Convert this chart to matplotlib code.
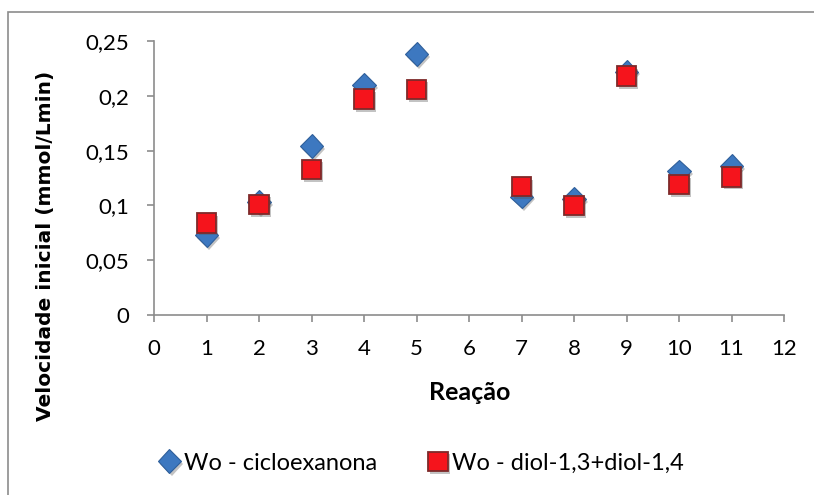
import matplotlib
matplotlib.use("Agg")
import matplotlib.pyplot as plt
import matplotlib.patheffects as pe
from matplotlib.patches import Rectangle

# ---- data ----
reacoes = [1, 2, 3, 4, 5, 7, 8, 9, 10, 11]
cicloexanona = [0.073, 0.103, 0.154, 0.210, 0.238, 0.108, 0.106, 0.222, 0.131, 0.136]
diol = [0.084, 0.101, 0.133, 0.197, 0.206, 0.117, 0.100, 0.218, 0.119, 0.126]
serie_labels = ["Wo - cicloexanona", "Wo - diol-1,3+diol-1,4"]
x_ticks = list(range(0, 13))
y_ticks = [0, 0.05, 0.10, 0.15, 0.20, 0.25]
y_tick_labels = ["0", "0,05", "0,1", "0,15", "0,2", "0,25"]
x_title = "Reação"
y_title = "Velocidade inicial (mmol/Lmin)"

W, H = 814, 495
fig = plt.figure(figsize=(W / 100, H / 100), dpi=100)
fig.patch.set_facecolor("white")

# chart border
fig.patches.append(Rectangle((8 / W, -0.05), 1.2, (H - 12) / H + 0.05,
                             transform=fig.transFigure, fill=False,
                             edgecolor="#8c8c8c", linewidth=1.2))

ax = fig.add_axes([154 / W, 1 - 315 / H, (784 - 154) / W, (315 - 41) / H])
ax.set_xlim(0, 12)
ax.set_ylim(0, 0.25)

shadow = [pe.SimplePatchShadow(offset=(1.5, -2), shadow_rgbFace="#555555", alpha=0.35), pe.Normal()]

ax.plot(reacoes, cicloexanona, linestyle="none", marker="D", markersize=12,
        markerfacecolor="#3D78C0", markeredgecolor="#2F5F9A", markeredgewidth=0.8,
        label=serie_labels[0], path_effects=shadow, clip_on=False, zorder=3)
ax.plot(reacoes, diol, linestyle="none", marker="s", markersize=14,
        markerfacecolor="#F5141C", markeredgecolor="#7E2A2A", markeredgewidth=1.3,
        label=serie_labels[1], path_effects=shadow, clip_on=False, zorder=4)

for s in ["top", "right"]:
    ax.spines[s].set_visible(False)
for s in ["left", "bottom"]:
    ax.spines[s].set_color("#8c8c8c")
    ax.spines[s].set_linewidth(1.2)

font = "Lato"
ax.set_xticks(x_ticks)
ax.set_xticklabels([str(v) for v in x_ticks], fontfamily=font, fontsize=16)
ax.set_yticks(y_ticks)
ax.set_yticklabels(y_tick_labels, fontfamily=font, fontsize=16)
ax.tick_params(axis="both", direction="out", length=5, width=1.2, color="#8c8c8c")
ax.tick_params(axis="x", pad=12)
ax.tick_params(axis="y", pad=13)

fig.text(470 / W, 1 - 392 / H, x_title, ha="center", va="center",
         fontfamily=font, fontweight="bold", fontsize=18)
fig.text(46 / W, 1 - 246 / H, y_title, ha="center", va="center", rotation=90,
         fontfamily="DejaVu Sans", fontweight="bold", fontsize=14.5)

leg = fig.legend(loc="center", bbox_to_anchor=(422 / W, 1 - 463 / H), ncol=2,
                 frameon=False, prop={"family": font, "size": 17},
                 handlelength=0.8, handletextpad=0.2, columnspacing=2.2,
                 markerscale=1.0)

fig.savefig("out.png", dpi=100, facecolor="white")
